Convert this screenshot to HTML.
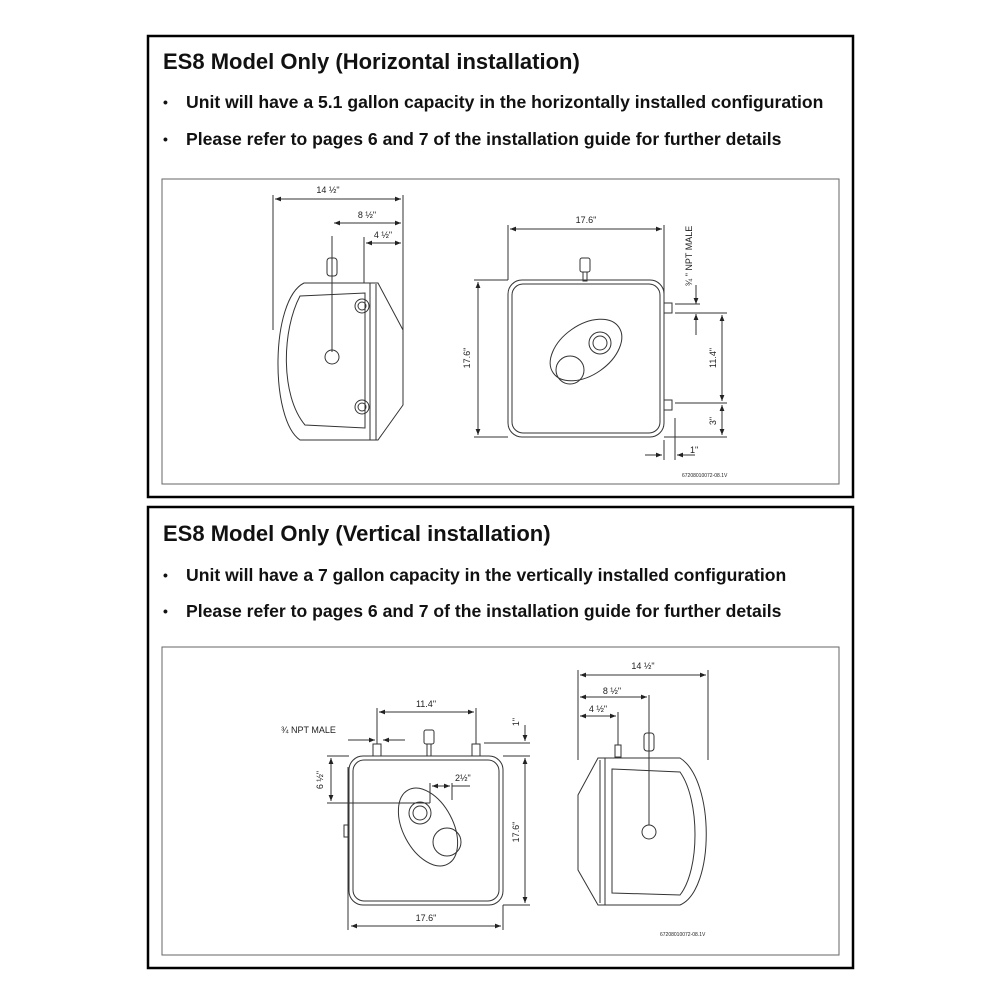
<!DOCTYPE html>
<html><head><style>
body{margin:0;background:#fff;}
svg{display:block}
.t{font-family:"Liberation Sans",sans-serif;font-weight:bold;fill:#111}
.d{font-family:"Liberation Sans",sans-serif;font-size:9px;fill:#222}
</style></head><body>
<svg width="1000" height="1000" viewBox="0 0 1000 1000" xmlns="http://www.w3.org/2000/svg">
<defs>
<marker id="a" viewBox="0 0 10 10" refX="10" refY="5" markerWidth="6" markerHeight="6" orient="auto-start-reverse"><path d="M0,1 L10,5 L0,9z" fill="#222"/></marker>
</defs>
<rect x="148" y="36" width="705" height="461" fill="none" stroke="#000" stroke-width="2.5"/>
<rect x="148" y="507" width="705" height="461" fill="none" stroke="#000" stroke-width="2.5"/>
<text class="t" x="163" y="69" font-size="22">ES8 Model Only (Horizontal installation)</text>
<text class="t" x="163" y="107" font-size="14">•</text><text class="t" x="186" y="108" font-size="17.6">Unit will have a 5.1 gallon capacity in the horizontally installed configuration</text>
<text class="t" x="163" y="144" font-size="14">•</text><text class="t" x="186" y="145" font-size="17.6">Please refer to pages 6 and 7 of the installation guide for further details</text>
<text class="t" x="163" y="541" font-size="22">ES8 Model Only (Vertical installation)</text>
<text class="t" x="163" y="580" font-size="14">•</text><text class="t" x="186" y="581" font-size="17.6">Unit will have a 7 gallon capacity in the vertically installed configuration</text>
<text class="t" x="163" y="616" font-size="14">•</text><text class="t" x="186" y="617" font-size="17.6">Please refer to pages 6 and 7 of the installation guide for further details</text>
<rect x="162" y="179" width="677" height="305" fill="none" stroke="#666" stroke-width="1"/>
<rect x="162" y="647" width="677" height="308" fill="none" stroke="#666" stroke-width="1"/>

<g fill="none" stroke="#333" stroke-width="1">
<path d="M304,283 L370,283 L370,440 L300,440 C270,420 270,300 304,283z"/>
<path d="M370,283 L378,283 L403,330 L403,405 L378,440 L370,440"/>
<path d="M300,296 L365,293 L365,428 L305,425 C280,395 282,330 300,296z"/>
<line x1="376" y1="284" x2="376" y2="440"/>
<circle cx="362" cy="306" r="7"/><circle cx="362" cy="306" r="4"/>
<circle cx="362" cy="407" r="7"/><circle cx="362" cy="407" r="4"/>
<circle cx="332" cy="357" r="7"/>
<rect x="327" y="258" width="10" height="18" rx="3"/>
<line x1="332" y1="236" x2="332" y2="352"/>
<line x1="364" y1="237" x2="364" y2="283"/>
<line x1="273" y1="195" x2="273" y2="330"/>
<line x1="403" y1="195" x2="403" y2="330"/>
<line x1="275" y1="199" x2="401" y2="199" marker-start="url(#a)" marker-end="url(#a)"/>
<line x1="334" y1="223" x2="401" y2="223" marker-start="url(#a)" marker-end="url(#a)"/>
<line x1="366" y1="243" x2="401" y2="243" marker-start="url(#a)" marker-end="url(#a)"/>
<rect x="508" y="280" width="156" height="157" rx="14"/>
<rect x="512" y="284" width="148" height="149" rx="11"/>
<rect x="580" y="258" width="10" height="14" rx="2"/><rect x="583" y="272" width="4" height="9"/>
<ellipse cx="586" cy="350" rx="40" ry="25" transform="rotate(-35 586 350)"/>
<circle cx="600" cy="343" r="11"/><circle cx="600" cy="343" r="7"/>
<circle cx="570" cy="370" r="14"/>
<rect x="664" y="303" width="8" height="10"/><rect x="664" y="400" width="8" height="10"/>
<line x1="508" y1="225" x2="508" y2="280"/><line x1="664" y1="225" x2="664" y2="300"/>
<line x1="510" y1="229" x2="662" y2="229" marker-start="url(#a)" marker-end="url(#a)"/>
<line x1="474" y1="280" x2="508" y2="280"/><line x1="474" y1="437" x2="508" y2="437"/>
<line x1="478" y1="282" x2="478" y2="435" marker-start="url(#a)" marker-end="url(#a)"/>
<line x1="675" y1="313" x2="727" y2="313"/><line x1="675" y1="403" x2="727" y2="403"/><line x1="664" y1="437" x2="727" y2="437"/>
<line x1="722" y1="315" x2="722" y2="401" marker-start="url(#a)" marker-end="url(#a)"/>
<line x1="722" y1="405" x2="722" y2="435" marker-start="url(#a)" marker-end="url(#a)"/>
<line x1="696" y1="285" x2="696" y2="304" marker-end="url(#a)"/>
<line x1="696" y1="335" x2="696" y2="314" marker-end="url(#a)"/>
<line x1="675" y1="304" x2="700" y2="304"/>
<line x1="664" y1="440" x2="664" y2="460"/><line x1="675" y1="418" x2="675" y2="460"/>
<line x1="645" y1="455" x2="662" y2="455" marker-end="url(#a)"/>
<line x1="695" y1="455" x2="677" y2="455" marker-end="url(#a)"/>

<rect x="349" y="756" width="154" height="149" rx="14"/>
<rect x="353" y="760" width="146" height="141" rx="11"/>
<rect x="373" y="744" width="8" height="12"/><rect x="472" y="744" width="8" height="12"/>
<rect x="424" y="730" width="10" height="14" rx="2"/><rect x="427" y="744" width="4" height="12"/>
<ellipse cx="428" cy="827" rx="25" ry="42" transform="rotate(-28 428 827)"/>
<circle cx="420" cy="813" r="11"/><circle cx="420" cy="813" r="7"/>
<circle cx="447" cy="842" r="14"/>
<rect x="344" y="825" width="4" height="12"/>
<line x1="377" y1="708" x2="377" y2="744"/><line x1="476" y1="708" x2="476" y2="744"/>
<line x1="379" y1="712" x2="474" y2="712" marker-start="url(#a)" marker-end="url(#a)"/>
<line x1="348" y1="767" x2="348" y2="930"/><line x1="503" y1="905" x2="503" y2="930"/>
<line x1="351" y1="926" x2="501" y2="926" marker-start="url(#a)" marker-end="url(#a)"/>
<line x1="503" y1="756" x2="530" y2="756"/><line x1="503" y1="905" x2="530" y2="905"/>
<line x1="525" y1="758" x2="525" y2="903" marker-start="url(#a)" marker-end="url(#a)"/>
<line x1="484" y1="743" x2="530" y2="743"/>
<line x1="525" y1="725" x2="525" y2="741" marker-end="url(#a)"/>
<line x1="327" y1="756" x2="349" y2="756"/><line x1="327" y1="803" x2="430" y2="803"/>
<line x1="331" y1="758" x2="331" y2="801" marker-start="url(#a)" marker-end="url(#a)"/>
<line x1="430" y1="783" x2="430" y2="803"/><line x1="452" y1="783" x2="452" y2="800"/>
<line x1="432" y1="786" x2="450" y2="786" marker-start="url(#a)" marker-end="url(#a)"/>
<line x1="452" y1="786" x2="470" y2="786"/>
<line x1="348" y1="740" x2="375" y2="740" marker-end="url(#a)"/>
<line x1="405" y1="740" x2="383" y2="740" marker-end="url(#a)"/>
<path d="M605,758 L680,758 C715,780 715,890 680,905 L605,905z"/>
<path d="M605,758 L598,758 L578,795 L578,870 L598,905 L605,905"/>
<line x1="600" y1="760" x2="600" y2="903"/>
<path d="M612,769 L680,772 C700,800 700,870 680,895 L612,893z"/>
<circle cx="649" cy="832" r="7"/>
<rect x="644" y="733" width="10" height="18" rx="3"/>
<rect x="615" y="745" width="6" height="12"/>
<line x1="578" y1="670" x2="578" y2="760"/><line x1="708" y1="670" x2="708" y2="760"/>
<line x1="580" y1="675" x2="706" y2="675" marker-start="url(#a)" marker-end="url(#a)"/>
<line x1="649" y1="695" x2="649" y2="825"/>
<line x1="618" y1="712" x2="618" y2="745"/>
<line x1="580" y1="697" x2="647" y2="697" marker-start="url(#a)" marker-end="url(#a)"/>
<line x1="580" y1="716" x2="616" y2="716" marker-start="url(#a)" marker-end="url(#a)"/>
</g>

<g class="d">
<text x="328" y="193" text-anchor="middle">14 ½"</text>
<text x="367" y="218" text-anchor="middle">8 ½"</text>
<text x="383" y="238" text-anchor="middle">4 ½"</text>
<text x="586" y="223" text-anchor="middle">17.6"</text>
<text transform="translate(470 358) rotate(-90)" text-anchor="middle">17.6"</text>
<text transform="translate(716 358) rotate(-90)" text-anchor="middle">11.4"</text>
<text transform="translate(716 421) rotate(-90)" text-anchor="middle">3"</text>
<text x="690" y="453">1"</text>
<text transform="translate(692 256) rotate(-90)" text-anchor="middle">¾ " NPT MALE</text>
<text x="682" y="477" font-size="5">67208010072-08.1V</text>
<text x="426" y="707" text-anchor="middle">11.4"</text>
<text x="281" y="733">¾ NPT MALE</text>
<text transform="translate(519 722) rotate(-90)" text-anchor="middle">1"</text>
<text transform="translate(323 780) rotate(-90)" text-anchor="middle">6 ½"</text>
<text x="455" y="781">2½"</text>
<text transform="translate(519 832) rotate(-90)" text-anchor="middle">17.6"</text>
<text x="426" y="921" text-anchor="middle">17.6"</text>
<text x="643" y="669" text-anchor="middle">14 ½"</text>
<text x="612" y="694" text-anchor="middle">8 ½"</text>
<text x="598" y="712" text-anchor="middle">4 ½"</text>
<text x="660" y="936" font-size="5">67208010072-08.1V</text>
</g>
</svg>
</body></html>
